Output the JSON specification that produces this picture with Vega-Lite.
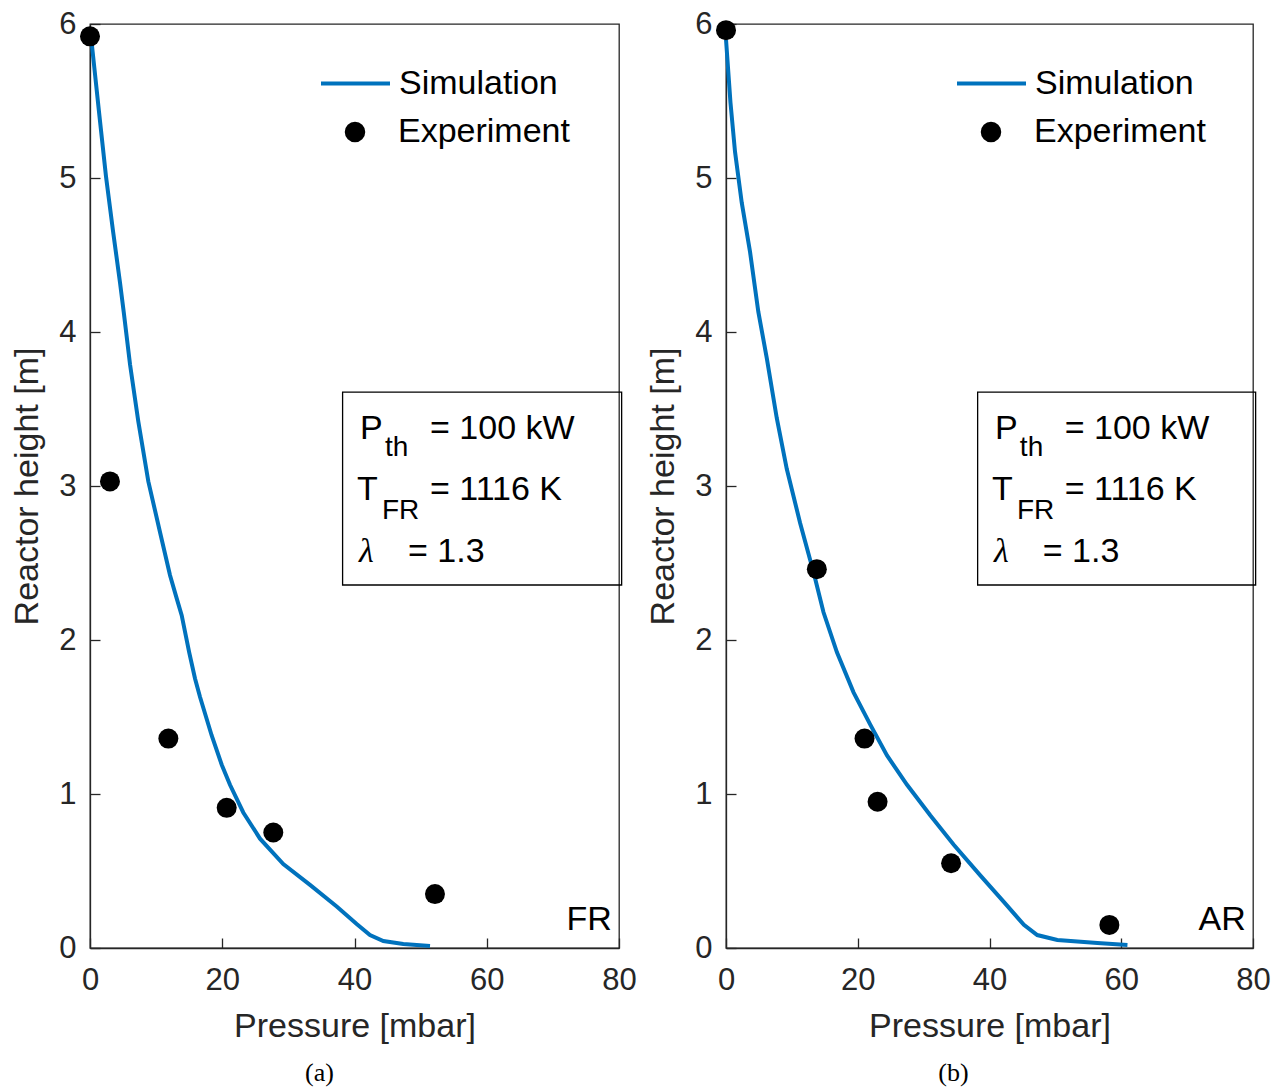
{
  "$schema": "https://vega.github.io/schema/vega-lite/v6.json",
  "background": "white",
  "padding": {"left": 10, "top": 7, "right": 5, "bottom": 5},
  "datasets": {
    "simFR": [
      {"p":0.2,"h":5.9,"series":"Simulation"},{"p":1.36,"h":5.43,"series":"Simulation"},{"p":2.42,"h":5.01,"series":"Simulation"},
      {"p":3.5,"h":4.65,"series":"Simulation"},{"p":4.54,"h":4.32,"series":"Simulation"},{"p":5.1,"h":4.13,"series":"Simulation"},
      {"p":6.05,"h":3.79,"series":"Simulation"},{"p":7.3,"h":3.42,"series":"Simulation"},{"p":8.82,"h":3.03,"series":"Simulation"},
      {"p":10.59,"h":2.7,"series":"Simulation"},{"p":12.1,"h":2.42,"series":"Simulation"},{"p":13.11,"h":2.27,"series":"Simulation"},
      {"p":13.87,"h":2.16,"series":"Simulation"},{"p":15.0,"h":1.92,"series":"Simulation"},{"p":15.88,"h":1.75,"series":"Simulation"},
      {"p":16.64,"h":1.63,"series":"Simulation"},{"p":18.4,"h":1.38,"series":"Simulation"},{"p":19.92,"h":1.19,"series":"Simulation"},
      {"p":21.17,"h":1.06,"series":"Simulation"},{"p":23.18,"h":0.88,"series":"Simulation"},{"p":25.71,"h":0.71,"series":"Simulation"},
      {"p":29.23,"h":0.545,"series":"Simulation"},{"p":33.27,"h":0.41,"series":"Simulation"},{"p":37.31,"h":0.27,"series":"Simulation"},
      {"p":40.33,"h":0.156,"series":"Simulation"},{"p":42.34,"h":0.084,"series":"Simulation"},{"p":44.36,"h":0.045,"series":"Simulation"},
      {"p":47.38,"h":0.026,"series":"Simulation"},{"p":51.42,"h":0.013,"series":"Simulation"}
    ],
    "expFR": [
      {"p":0,"h":5.92,"series":"Experiment"},{"p":3.02,"h":3.03,"series":"Experiment"},{"p":11.85,"h":1.36,"series":"Experiment"},
      {"p":20.67,"h":0.91,"series":"Experiment"},{"p":27.72,"h":0.75,"series":"Experiment"},{"p":52.17,"h":0.35,"series":"Experiment"}
    ],
    "simAR": [
      {"p":0,"h":5.9,"series":"Simulation"},{"p":0.68,"h":5.49,"series":"Simulation"},{"p":1.37,"h":5.17,"series":"Simulation"},
      {"p":2.39,"h":4.84,"series":"Simulation"},{"p":3.65,"h":4.52,"series":"Simulation"},{"p":4.91,"h":4.13,"series":"Simulation"},
      {"p":6.19,"h":3.83,"series":"Simulation"},{"p":7.71,"h":3.44,"series":"Simulation"},{"p":9.23,"h":3.11,"series":"Simulation"},
      {"p":11.25,"h":2.76,"series":"Simulation"},{"p":12.78,"h":2.52,"series":"Simulation"},{"p":13.18,"h":2.46,"series":"Simulation"},
      {"p":14.8,"h":2.18,"series":"Simulation"},{"p":16.84,"h":1.92,"series":"Simulation"},{"p":19.36,"h":1.66,"series":"Simulation"},
      {"p":21.9,"h":1.45,"series":"Simulation"},{"p":24.44,"h":1.25,"series":"Simulation"},{"p":27.48,"h":1.06,"series":"Simulation"},
      {"p":31.03,"h":0.86,"series":"Simulation"},{"p":34.57,"h":0.67,"series":"Simulation"},{"p":38.63,"h":0.47,"series":"Simulation"},
      {"p":42.17,"h":0.3,"series":"Simulation"},{"p":45.22,"h":0.15,"series":"Simulation"},{"p":47.25,"h":0.084,"series":"Simulation"},
      {"p":50.3,"h":0.052,"series":"Simulation"},{"p":56.38,"h":0.032,"series":"Simulation"},{"p":60.94,"h":0.019,"series":"Simulation"}
    ],
    "expAR": [
      {"p":0,"h":5.96,"series":"Experiment"},{"p":13.79,"h":2.46,"series":"Experiment"},{"p":21.03,"h":1.36,"series":"Experiment"},
      {"p":23.01,"h":0.95,"series":"Experiment"},{"p":34.17,"h":0.55,"series":"Experiment"},{"p":58.2,"h":0.15,"series":"Experiment"}
    ],
    "box": [{"x1":38.2,"x2":80.4,"y1":2.357,"y2":3.61}],
    "mainText": [
      {"x":40.83,"y":3.305,"t":"P"},{"x":51.42,"y":3.305,"t":"= 100 kW"},
      {"x":40.38,"y":2.909,"t":"T"},{"x":51.42,"y":2.909,"t":"= 1116 K"},
      {"x":48.09,"y":2.506,"t":"= 1.3"}
    ],
    "subText": [
      {"x":44.61,"y":3.195,"t":"th"},{"x":44.16,"y":2.786,"t":"FR"}
    ],
    "greek": [{"x":40.68,"y":2.506,"t":"λ"}],
    "cornerFR": [{"x":78.9,"y":0.117,"t":"FR"}],
    "cornerAR": [{"x":78.9,"y":0.117,"t":"AR"}]
  },
  "config": {
    "view": {"stroke": "#262626", "strokeWidth": 1.3},
    "axis": {
      "grid": false, "labelFlush": false,
      "domainColor": "#262626", "domainWidth": 1.3,
      "tickColor": "#262626", "tickWidth": 1.3, "tickSize": -10,
      "labelFont": "Liberation Sans", "labelFontSize": 31, "labelColor": "#262626",
      "titleFont": "Liberation Sans", "titleFontSize": 34, "titleFontWeight": "normal", "titleColor": "#262626", "titlePadding": 14
    },
    "axisX": {"labelPadding": 27},
    "axisY": {"labelPadding": 24},
    "legend": {"labelFont": "Liberation Sans", "labelFontSize": 34, "labelColor": "black", "padding": 0, "title": null, "labelLimit": 400}
  },
  "spacing": 107,
  "bounds": "flush",
  "resolve": {
    "scale": {"color": "independent", "shape": "independent", "x": "independent", "y": "independent"},
    "legend": {"color": "independent", "shape": "independent"}
  },
  "hconcat": [
    {
      "width": 529, "height": 924,
      "title": {"text": "(a)", "orient": "bottom", "anchor": "middle", "frame": "bounds", "font": "Liberation Serif", "fontSize": 26, "fontWeight": "normal", "color": "black", "offset": 17, "dx": -4},
      "encoding": {
        "x": {"field": "p", "type": "quantitative", "scale": {"domain": [0, 80], "nice": false}, "axis": {"values": [0, 20, 40, 60, 80], "title": "Pressure [mbar]"}},
        "y": {"field": "h", "type": "quantitative", "scale": {"domain": [0, 6], "nice": false}, "axis": {"values": [0, 1, 2, 3, 4, 5, 6], "title": "Reactor height [m]"}}
      },
      "layer": [
        {"data": {"name": "simFR"}, "mark": {"type": "line", "strokeWidth": 4},
         "encoding": {"color": {"field": "series", "type": "nominal", "scale": {"domain": ["Simulation"], "range": ["#0072BD"]},
           "legend": {"orient": "none", "legendX": 229, "legendY": 23, "symbolType": "stroke", "symbolSize": 4761, "symbolStrokeWidth": 4, "labelOffset": 7}}}},
        {"data": {"name": "expFR"}, "mark": {"type": "point", "filled": true, "size": 400, "color": "black", "opacity": 1},
         "encoding": {"shape": {"field": "series", "type": "nominal", "scale": {"domain": ["Experiment"], "range": ["circle"]},
           "legend": {"orient": "none", "legendX": 248, "legendY": 91, "symbolType": "circle", "symbolSize": 420, "symbolFillColor": "black", "symbolStrokeColor": "black", "symbolOpacity": 1, "labelOffset": 26}}}},
        {"data": {"name": "box"}, "mark": {"type": "rect", "fill": null, "fillOpacity": 0, "stroke": "black", "strokeWidth": 1.3},
         "encoding": {"x": {"field": "x1", "type": "quantitative"}, "x2": {"field": "x2"}, "y": {"field": "y1", "type": "quantitative"}, "y2": {"field": "y2"}}},
        {"data": {"name": "mainText"}, "mark": {"type": "text", "align": "left", "baseline": "alphabetic", "font": "Liberation Sans", "fontSize": 34, "color": "black"},
         "encoding": {"x": {"field": "x", "type": "quantitative"}, "y": {"field": "y", "type": "quantitative"}, "text": {"field": "t"}}},
        {"data": {"name": "subText"}, "mark": {"type": "text", "align": "left", "baseline": "alphabetic", "font": "Liberation Sans", "fontSize": 28, "color": "black"},
         "encoding": {"x": {"field": "x", "type": "quantitative"}, "y": {"field": "y", "type": "quantitative"}, "text": {"field": "t"}}},
        {"data": {"name": "greek"}, "mark": {"type": "text", "align": "left", "baseline": "alphabetic", "font": "Liberation Serif", "fontStyle": "italic", "fontSize": 34, "color": "black"},
         "encoding": {"x": {"field": "x", "type": "quantitative"}, "y": {"field": "y", "type": "quantitative"}, "text": {"field": "t"}}},
        {"data": {"name": "cornerFR"}, "mark": {"type": "text", "align": "right", "baseline": "alphabetic", "font": "Liberation Sans", "fontSize": 34, "color": "black"},
         "encoding": {"x": {"field": "x", "type": "quantitative"}, "y": {"field": "y", "type": "quantitative"}, "text": {"field": "t"}}}
      ]
    },
    {
      "width": 527, "height": 924,
      "title": {"text": "(b)", "orient": "bottom", "anchor": "middle", "frame": "bounds", "font": "Liberation Serif", "fontSize": 26, "fontWeight": "normal", "color": "black", "offset": 17, "dx": -5},
      "encoding": {
        "x": {"field": "p", "type": "quantitative", "scale": {"domain": [0, 80], "nice": false}, "axis": {"values": [0, 20, 40, 60, 80], "title": "Pressure [mbar]"}},
        "y": {"field": "h", "type": "quantitative", "scale": {"domain": [0, 6], "nice": false}, "axis": {"values": [0, 1, 2, 3, 4, 5, 6], "title": "Reactor height [m]"}}
      },
      "layer": [
        {"data": {"name": "simAR"}, "mark": {"type": "line", "strokeWidth": 4},
         "encoding": {"color": {"field": "series", "type": "nominal", "scale": {"domain": ["Simulation"], "range": ["#0072BD"]},
           "legend": {"orient": "none", "legendX": 229, "legendY": 23, "symbolType": "stroke", "symbolSize": 4761, "symbolStrokeWidth": 4, "labelOffset": 7}}}},
        {"data": {"name": "expAR"}, "mark": {"type": "point", "filled": true, "size": 400, "color": "black", "opacity": 1},
         "encoding": {"shape": {"field": "series", "type": "nominal", "scale": {"domain": ["Experiment"], "range": ["circle"]},
           "legend": {"orient": "none", "legendX": 248, "legendY": 91, "symbolType": "circle", "symbolSize": 420, "symbolFillColor": "black", "symbolStrokeColor": "black", "symbolOpacity": 1, "labelOffset": 26}}}},
        {"data": {"name": "box"}, "mark": {"type": "rect", "fill": null, "fillOpacity": 0, "stroke": "black", "strokeWidth": 1.3},
         "encoding": {"x": {"field": "x1", "type": "quantitative"}, "x2": {"field": "x2"}, "y": {"field": "y1", "type": "quantitative"}, "y2": {"field": "y2"}}},
        {"data": {"name": "mainText"}, "mark": {"type": "text", "align": "left", "baseline": "alphabetic", "font": "Liberation Sans", "fontSize": 34, "color": "black"},
         "encoding": {"x": {"field": "x", "type": "quantitative"}, "y": {"field": "y", "type": "quantitative"}, "text": {"field": "t"}}},
        {"data": {"name": "subText"}, "mark": {"type": "text", "align": "left", "baseline": "alphabetic", "font": "Liberation Sans", "fontSize": 28, "color": "black"},
         "encoding": {"x": {"field": "x", "type": "quantitative"}, "y": {"field": "y", "type": "quantitative"}, "text": {"field": "t"}}},
        {"data": {"name": "greek"}, "mark": {"type": "text", "align": "left", "baseline": "alphabetic", "font": "Liberation Serif", "fontStyle": "italic", "fontSize": 34, "color": "black"},
         "encoding": {"x": {"field": "x", "type": "quantitative"}, "y": {"field": "y", "type": "quantitative"}, "text": {"field": "t"}}},
        {"data": {"name": "cornerAR"}, "mark": {"type": "text", "align": "right", "baseline": "alphabetic", "font": "Liberation Sans", "fontSize": 34, "color": "black"},
         "encoding": {"x": {"field": "x", "type": "quantitative"}, "y": {"field": "y", "type": "quantitative"}, "text": {"field": "t"}}}
      ]
    }
  ]
}
